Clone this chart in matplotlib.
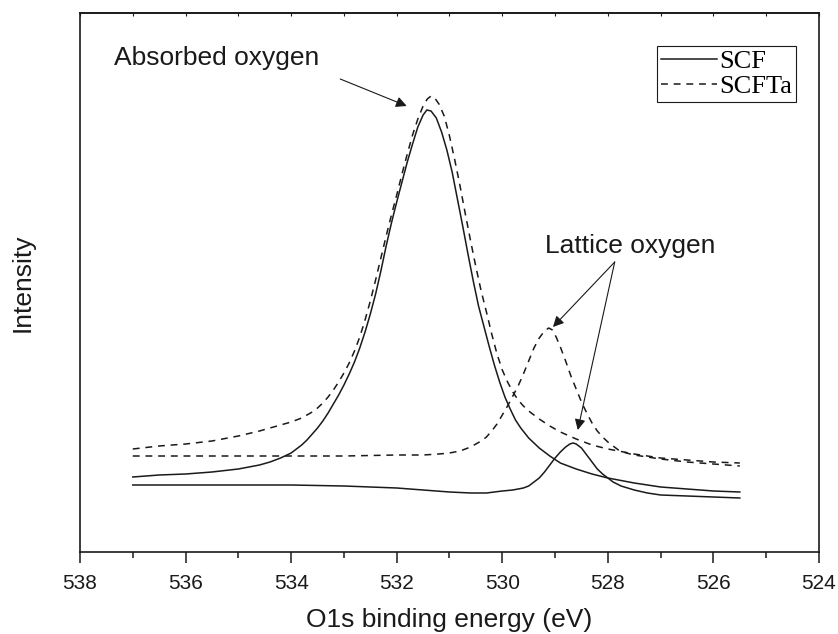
import matplotlib
matplotlib.use("Agg")
import matplotlib.pyplot as plt
from matplotlib.ticker import MultipleLocator

plt.rcParams["font.family"] = ["Liberation Sans", "DejaVu Sans"]

# O1s spectra (binding energy in eV, intensity in a.u.)
scf_abs_e = [537.0, 536.5, 536.0, 535.5, 535.0, 534.8, 534.6, 534.4, 534.2, 534.0,
             533.9, 533.8, 533.7, 533.6, 533.5, 533.4, 533.3, 533.2, 533.1, 533.0,
             532.9, 532.8, 532.7, 532.6, 532.5, 532.4, 532.3, 532.2, 532.1, 532.0,
             531.9, 531.8, 531.7, 531.6, 531.5, 531.43, 531.35, 531.25, 531.15, 531.05,
             530.95, 530.85, 530.75, 530.65, 530.55, 530.45, 530.35, 530.25, 530.15, 530.05,
             529.95, 529.85, 529.75, 529.65, 529.5, 529.3, 529.1, 528.9, 528.6, 528.3,
             528.0, 527.5, 527.0, 526.5, 526.0, 525.5]
scf_abs_i = [75, 77, 78, 80, 83, 85, 87, 90, 94, 99,
             103, 107, 112, 118, 124, 131, 139, 148, 157, 167,
             178, 190, 204, 220, 238, 258, 281, 306, 329, 350,
             370, 390, 408, 425, 437, 442, 441, 434, 420, 402,
             380, 353, 326, 298, 271, 246, 226, 206, 187, 170,
             155, 143, 132, 124, 114, 104, 96, 89, 83, 78,
             74, 69, 65, 63, 61, 60]

scf_lat_e = [537.0, 536.0, 535.0, 534.0, 533.0, 532.5, 532.0, 531.5, 531.0, 530.6,
             530.3, 530.0, 529.8, 529.6, 529.5, 529.4, 529.3, 529.2, 529.1, 529.0,
             528.9, 528.8, 528.72, 528.66, 528.6, 528.5, 528.4, 528.3, 528.2, 528.1,
             528.0, 527.9, 527.75, 527.5, 527.25, 527.0, 526.5, 526.0, 525.5]
scf_lat_i = [67, 67, 67, 67, 66, 65, 64, 62, 60, 59,
             59, 61, 62, 64, 66, 70, 74, 80, 87, 94,
             100, 105, 108, 109, 108, 104, 97, 90, 83, 78,
             74, 70, 66, 62, 59, 57, 56, 55, 54]

scfta_abs_e = [537.0, 536.5, 536.0, 535.5, 535.0, 534.6, 534.4, 534.2, 534.0, 533.8,
               533.6, 533.5, 533.4, 533.3, 533.2, 533.1, 533.0, 532.9, 532.8, 532.7,
               532.6, 532.5, 532.4, 532.3, 532.2, 532.1, 532.0, 531.9, 531.8, 531.7,
               531.6, 531.5, 531.42, 531.35, 531.28, 531.2, 531.1, 531.0, 530.9, 530.8,
               530.7, 530.6, 530.5, 530.4, 530.3, 530.2, 530.1, 530.0, 529.9, 529.8,
               529.7, 529.6, 529.5, 529.3, 529.1, 528.9, 528.6, 528.3, 528.0, 527.5,
               527.0, 526.5, 526.0, 525.5]
scfta_abs_i = [103, 106, 108, 111, 116, 121, 124, 127, 130, 134,
               140, 144, 149, 155, 162, 170, 179, 189, 201, 215,
               232, 251, 272, 294, 316, 337, 357, 378, 398, 417,
               433, 446, 453, 456, 454, 448, 436, 416, 392, 366,
               338, 311, 285, 261, 240, 218, 198, 182, 170, 160,
               152, 146, 141, 133, 126, 120, 113, 107, 103, 98,
               94, 92, 90, 89]

scfta_lat_e = [537.0, 536.0, 535.0, 534.0, 533.0, 532.0, 531.5, 531.2, 531.0, 530.8,
               530.6, 530.4, 530.3, 530.2, 530.1, 530.0, 529.9, 529.8, 529.7, 529.6,
               529.5, 529.4, 529.3, 529.2, 529.12, 529.05, 528.98, 528.9, 528.8, 528.7,
               528.6, 528.5, 528.4, 528.3, 528.2, 528.1, 528.0, 527.9, 527.8, 527.65,
               527.5, 527.25, 527.0, 526.5, 526.0, 525.5]
scfta_lat_i = [96, 96, 96, 96, 96, 97, 97, 98, 99, 101,
               105, 111, 115, 121, 128, 137, 146, 156, 166, 178,
               191, 204, 214, 221, 224, 222, 215, 205, 191, 176,
               163, 150, 139, 129, 121, 115, 110, 106, 102, 99,
               97, 95, 93, 90, 88, 86]

INK = "#1a1a1a"
DASH = (0, (4.5, 3.8))

fig = plt.figure(figsize=(8.38, 6.34), dpi=100)
ax = fig.add_axes([80 / 838, 1 - 552 / 634, 739 / 838, 539 / 634])

ax.plot(scf_abs_e, scf_abs_i, color=INK, lw=1.1, label="SCF")
ax.plot(scf_lat_e, scf_lat_i, color=INK, lw=1.1)
ax.plot(scfta_abs_e, scfta_abs_i, color=INK, lw=1.1, ls=DASH, label="SCFTa")
ax.plot(scfta_lat_e, scfta_lat_i, color=INK, lw=1.1, ls=DASH)

ax.set_xlim(538, 524)
ax.set_ylim(0, 539)
ax.set_yticks([])

ax.xaxis.set_major_locator(MultipleLocator(2))
ax.xaxis.set_minor_locator(MultipleLocator(1))
ax.tick_params(axis="x", which="major", direction="out", length=8, width=1.1,
               labelsize=15, pad=8, colors=INK)
ax.tick_params(axis="x", which="minor", direction="out", length=4.5, width=1.1, colors=INK)

# small inward ticks along the top edge
top = ax.secondary_xaxis("top")
top.xaxis.set_major_locator(MultipleLocator(1))
top.tick_params(direction="in", length=2.5, width=0.8, labeltop=False, colors=INK)
top.spines["top"].set_linewidth(1.2)
top.spines["top"].set_color(INK)

for side in ["left", "right", "top", "bottom"]:
    ax.spines[side].set_linewidth(1.2)
    ax.spines[side].set_color(INK)

ax.set_xlabel("O1s binding energy (eV)", fontsize=19, color=INK, labelpad=11)
ax.set_ylabel("Intensity", fontsize=19, color=INK)
ax.yaxis.set_label_coords(-0.062, 0.5)

arrow = dict(arrowstyle="-|>", color=INK, lw=0.8, mutation_scale=16, shrinkA=0, shrinkB=0)
ax.text(537.36, 487, "Absorbed oxygen", fontsize=19, color=INK, ha="left", va="baseline")
ax.annotate("", xy=(531.81, 446), xytext=(533.07, 473), arrowprops=arrow)

ax.text(527.58, 299, "Lattice oxygen", fontsize=19, color=INK, ha="center", va="baseline")
ax.annotate("", xy=(529.04, 225), xytext=(527.87, 290), arrowprops=arrow)
ax.annotate("", xy=(528.57, 122), xytext=(527.87, 290), arrowprops=arrow)

leg = ax.legend(loc="upper right", bbox_to_anchor=(0.969, 0.939), borderaxespad=0,
                prop={"family": "Liberation Serif", "size": 19},
                handlelength=2.1, handletextpad=0.1, borderpad=0.15, labelspacing=0.05,
                fancybox=False, framealpha=1, edgecolor=INK)
leg.get_frame().set_linewidth(0.8)

fig.savefig("out.png", dpi=100)
